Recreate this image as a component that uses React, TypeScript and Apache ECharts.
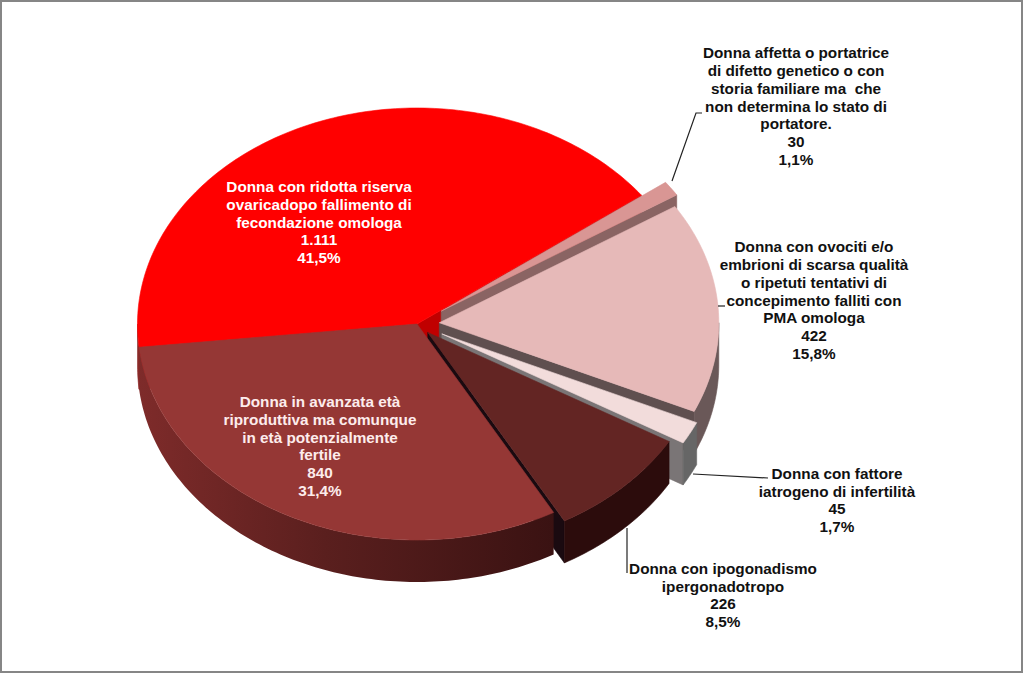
import React, { useEffect, useRef } from "react";
import * as echarts from "echarts";

// Slices in clockwise order, starting at the small rose slice
const categories = [
  "Donna affetta o portatrice\ndi difetto genetico o con\nstoria familiare ma  che\nnon determina lo stato di\nportatore.",
  "Donna con ovociti e/o\nembrioni di scarsa qualità\no ripetuti tentativi di\nconcepimento falliti con\nPMA omologa",
  "Donna con fattore\niatrogeno di infertilità",
  "Donna con ipogonadismo\nipergonadotropo",
  "Donna in avanzata età\nriproduttiva ma comunque\nin età potenzialmente\nfertile",
  "Donna con ridotta riserva\novaricadopo fallimento di\nfecondazione omologa",
];
const values = [30, 422, 45, 226, 840, 1111];
const valueLabels = ["30", "422", "45", "226", "840", "1.111"];
const percentLabels = ["1,1%", "15,8%", "1,7%", "8,5%", "31,4%", "41,5%"];

// Layout and style
const CX = 417, CY = 324, RX = 279.5, RY = 216, DEPTH = 42;
const START_ANGLE = 36.6;
const EXPLODE = [0.105, 0.08, 0.1, 0.055, 0, 0];
const DRAW_ORDER = [5, 0, 1, 2, 3, 4];
const TOP = ["#D99694", "#E6B9B8", "#F2DCDB", "#632523", "#953735", "#FF0000"];
const CUT = ["#8A6463", "#5F4F4F", "#7A7576", "#1A0A10", "#1A0A10", "#C00000"];
const WALL: any[] = [
  "#8A6463",
  "#6A5858",
  "#666666",
  "#2C0C0C",
  new echarts.graphic.LinearGradient(0, 0, 1, 0, [
    { offset: 0, color: "#7E2B2A" },
    { offset: 0.45, color: "#5A1F1E" },
    { offset: 1, color: "#3A1212" },
  ]),
  "#8A2A28",
];
const LABEL_POS = [
  [796, 106], [814, 300], [837, 500], [723, 595], [320, 446], [319, 222],
];
const LABEL_COLOR = ["#111", "#111", "#111", "#111", "#FDECEC", "#FFF"];
const LEADERS = [
  [[672, 181], [696, 113], [702, 113]],
  [[718, 306], [725, 306]],
  [[693, 474], [768, 478]],
  [[627, 528], [627, 573]],
];

const total = values.reduce((s, v) => s + v, 0);
const slices = (() => {
  let hi = START_ANGLE;
  return values.map((v, i) => {
    const lo = hi - (v / total) * 360;
    const mid = ((hi + lo) / 2) * Math.PI / 180;
    const s = {
      hi,
      lo,
      ax: CX + EXPLODE[i] * RX * Math.cos(mid),
      ay: CY - EXPLODE[i] * RY * Math.sin(mid),
    };
    hi = lo;
    return s;
  });
})();

const rad = (d: number) => (d * Math.PI) / 180;
const onArc = (s: any, d: number, dz = 0) => [
  s.ax + RX * Math.cos(rad(d)),
  s.ay - RY * Math.sin(rad(d)) + dz,
];
const arc = (s: any, from: number, to: number, dz = 0) => {
  const n = Math.max(2, Math.ceil(Math.abs(to - from)));
  const pts: number[][] = [];
  for (let k = 0; k <= n; k++) pts.push(onArc(s, from + ((to - from) * k) / n, dz));
  return pts;
};
const poly = (points: number[][], fill: any, stroke?: string) => ({
  type: "polygon",
  shape: { points },
  style: { fill, stroke: stroke ?? (typeof fill === "string" ? fill : "none"), lineWidth: 0.6 },
});

function renderSlice(_: any, api: any) {
  const i = api.value(1);
  const s = slices[i];
  const children: any[] = [];
  const cut = (d: number) => {
    const p = onArc(s, d);
    children.push(
      poly([[s.ax, s.ay], p, [p[0], p[1] + DEPTH], [s.ax, s.ay + DEPTH]], CUT[i])
    );
  };
  if (Math.cos(rad(s.hi)) < 0) cut(s.hi);
  if (Math.cos(rad(s.lo)) > 0) cut(s.lo);
  for (const [a, b] of [[-180, 0], [-540, -360]]) {
    const from = Math.max(s.lo, a), to = Math.min(s.hi, b);
    if (to > from) {
      children.push(
        poly([...arc(s, from, to), ...arc(s, to, from, DEPTH)], WALL[i])
      );
    }
  }
  children.push(poly([[s.ax, s.ay], ...arc(s, s.lo, s.hi)], TOP[i]));
  return { type: "group", children };
}

function renderLabel(_: any, api: any) {
  const i = api.value(1);
  return {
    type: "text",
    x: LABEL_POS[i][0],
    y: LABEL_POS[i][1],
    style: {
      text: `${categories[i]}\n${valueLabels[i]}\n${percentLabels[i]}`,
      fill: LABEL_COLOR[i],
      font: 'bold 15.3px "Liberation Sans", Arial, sans-serif',
      lineHeight: 17.7,
      align: "center",
      verticalAlign: "middle",
    },
  };
}

export default function App() {
  const ref = useRef<HTMLDivElement>(null);
  useEffect(() => {
    const chart = echarts.init(ref.current!, undefined, { renderer: "svg" });
    const data = DRAW_ORDER.map((i) => ({ name: categories[i].replace(/\n/g, " "), value: [values[i], i] }));
    chart.setOption({
      animation: false,
      backgroundColor: "#FFFFFF",
      graphic: [
        {
          type: "rect",
          z: 0,
          shape: { x: 1, y: 1, width: 1021, height: 671 },
          style: { fill: "none", stroke: "#868686", lineWidth: 2 },
        },
        ...LEADERS.map((pts) => ({
          type: "polyline",
          z: 10,
          shape: { points: pts },
          style: { fill: "none", stroke: "#222", lineWidth: 1.2 },
        })),
      ],
      series: [
        { type: "custom", coordinateSystem: "none", renderItem: renderSlice, data, z: 2, silent: true },
        { type: "custom", coordinateSystem: "none", renderItem: renderLabel, data, z: 3, silent: true },
      ],
    });
    return () => chart.dispose();
  }, []);
  return (
    <div
      ref={ref}
      style={{ position: "fixed", left: 0, top: 0, width: 1023, height: 673 }}
    />
  );
}
